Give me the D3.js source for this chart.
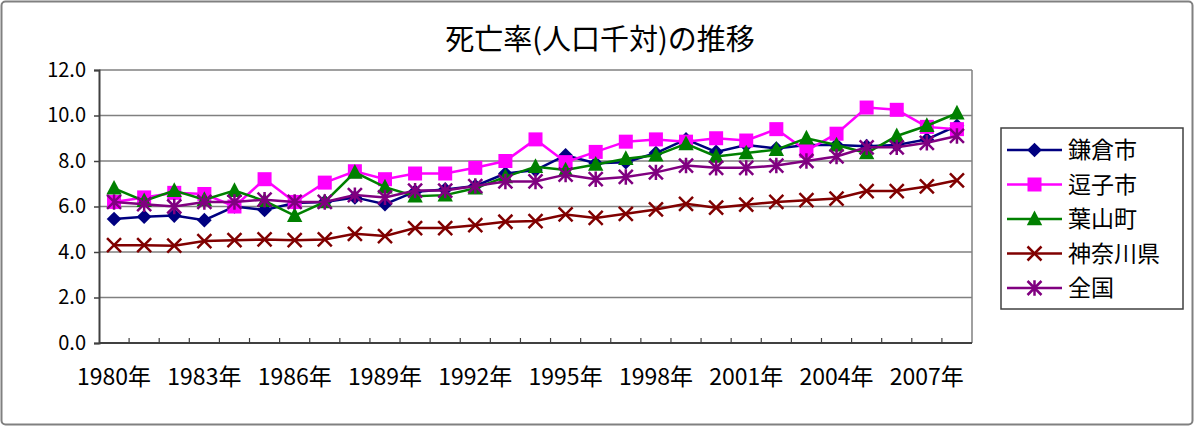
<!DOCTYPE html>
<html><head><meta charset="utf-8">
<script src="https://cdn.jsdelivr.net/npm/d3@7"></script>
<style>
html,body{margin:0;padding:0;background:#fff;}
text{font-family:"Noto Sans CJK JP","Noto Sans",sans-serif;fill:#000;}
</style></head>
<body><svg id="c" width="1195" height="428"></svg>
<script>
const title = "死亡率(人口千対)の推移";
const years = d3.range(1980, 2009);
const yTicks = [0, 2, 4, 6, 8, 10, 12];
const seriesNames = ["鎌倉市", "逗子市", "葉山町", "神奈川県", "全国"];
const kamakura = [5.45,5.55,5.6,5.4,6.0,5.85,6.15,6.2,6.4,6.1,6.65,6.75,6.9,7.45,7.6,8.25,7.9,7.95,8.35,8.95,8.4,8.7,8.55,8.7,8.7,8.65,8.7,8.95,9.55];
const zushi    = [6.2,6.4,6.6,6.55,6.0,7.2,6.2,7.05,7.55,7.2,7.45,7.45,7.7,8.0,8.95,7.95,8.4,8.85,8.95,8.85,9.0,8.9,9.4,8.45,9.2,10.35,10.25,9.5,9.4];
const hayama   = [6.8,6.25,6.7,6.3,6.7,6.25,5.6,6.2,7.5,6.85,6.45,6.5,6.8,7.3,7.75,7.6,7.85,8.1,8.25,8.75,8.2,8.35,8.5,9.0,8.7,8.35,9.1,9.55,10.1];
const kanagawa = [4.3,4.3,4.28,4.48,4.52,4.55,4.52,4.55,4.8,4.7,5.05,5.05,5.18,5.33,5.36,5.65,5.5,5.68,5.87,6.12,5.95,6.08,6.2,6.28,6.35,6.68,6.68,6.88,7.15];
const zenkoku  = [6.2,6.1,6.0,6.2,6.2,6.3,6.2,6.2,6.5,6.4,6.7,6.7,6.9,7.1,7.1,7.4,7.2,7.3,7.5,7.8,7.7,7.7,7.8,8.0,8.2,8.6,8.6,8.8,9.1];

const series = [
  {name: seriesNames[0], values: kamakura, color: "#000080", marker: "diamond"},
  {name: seriesNames[1], values: zushi,    color: "#FF00FF", marker: "square"},
  {name: seriesNames[2], values: hayama,   color: "#008000", marker: "triangle"},
  {name: seriesNames[3], values: kanagawa, color: "#800000", marker: "x"},
  {name: seriesNames[4], values: zenkoku,  color: "#800080", marker: "star"}
];

const svg = d3.select("#c");
const L = 99, R = 972, T = 70, B = 343;

svg.append("rect").attr("x",1.5).attr("y",1.5).attr("width",1191).attr("height",423)
  .attr("rx",4).attr("fill","#fff").attr("stroke","#808080").attr("stroke-width",2);

svg.append("text").attr("x",600).attr("y",50).attr("text-anchor","middle")
  .attr("font-size",29).text(title);

const x = d3.scaleBand().domain(years).range([L, R]);
const y = d3.scaleLinear().domain([0, 12]).range([B, T]);
const cx = d => x(d) + x.bandwidth()/2;

svg.append("g").selectAll("line").data(yTicks.filter(t => t > 0)).join("line")
  .attr("x1", L).attr("x2", R).attr("y1", d => y(d)).attr("y2", d => y(d))
  .attr("stroke", "#808080").attr("stroke-width", 1.5);
svg.append("line").attr("x1",R).attr("x2",R).attr("y1",T).attr("y2",B).attr("stroke","#808080").attr("stroke-width",1.5);

const yAxis = svg.append("g").attr("transform", `translate(${L},0)`)
  .call(d3.axisLeft(y).tickValues(yTicks).tickFormat(d3.format(".1f")).tickSize(5).tickPadding(8));
yAxis.select(".domain").attr("stroke","#404040").attr("stroke-width",2);
yAxis.selectAll(".tick line").attr("stroke","#404040").attr("stroke-width",1.5);
yAxis.selectAll("text").attr("font-size",20).attr("fill","#000");

const xAxis = svg.append("g").attr("transform", `translate(0,${B})`)
  .call(d3.axisBottom(x).tickValues(years.filter((d,i) => i % 3 === 0)).tickFormat(d => d + "年").tickSize(0).tickPadding(26));
xAxis.select(".domain").remove();
xAxis.selectAll("text").attr("font-size",23).attr("fill","#000");
svg.append("line").attr("x1",L).attr("x2",R).attr("y1",B).attr("y2",B).attr("stroke","#404040").attr("stroke-width",2);
svg.append("g").selectAll("line").data(years.slice(1)).join("line")
  .attr("x1", d => x(d)).attr("x2", d => x(d)).attr("y1", B).attr("y2", B-5)
  .attr("stroke", "#404040").attr("stroke-width", 1.2);

function drawMarker(g, type, color, s) {
  if (type === "diamond") {
    g.append("path").attr("d", d3.symbol(d3.symbolSquare, s*s*0.55)()).attr("transform","rotate(45)").attr("fill", color);
  } else if (type === "square") {
    g.append("rect").attr("x",-s/2).attr("y",-s/2).attr("width",s).attr("height",s).attr("fill",color);
  } else if (type === "triangle") {
    g.append("path").attr("d", `M0,${-s*0.6}L${s*0.55},${s*0.45}L${-s*0.55},${s*0.45}Z`).attr("fill",color);
  } else if (type === "x") {
    const h = s*0.5;
    g.append("path").attr("d", `M${-h},${-h}L${h},${h}M${-h},${h}L${h},${-h}`).attr("stroke",color).attr("stroke-width",2.5);
  } else if (type === "star") {
    const h = s*0.5;
    g.append("path").attr("d", `M${-h},${-h}L${h},${h}M${-h},${h}L${h},${-h}M0,${-h*1.1}L0,${h*1.1}`).attr("stroke",color).attr("stroke-width",2.5);
  }
}

const line = d3.line().x(d => cx(d.year)).y(d => y(d.v));
series.forEach(s => {
  const pts = years.map((yr, i) => ({year: yr, v: s.values[i]}));
  const g = svg.append("g");
  g.append("path").datum(pts).attr("d", line).attr("fill","none").attr("stroke", s.color).attr("stroke-width", 2.5);
  pts.forEach(p => {
    const m = g.append("g").attr("transform", `translate(${cx(p.year)},${y(p.v)})`);
    drawMarker(m, s.marker, s.color, 14);
  });
});

const lg = svg.append("g");
lg.append("rect").attr("x",1001).attr("y",128).attr("width",182).attr("height",181)
  .attr("fill","#fff").attr("stroke","#404040").attr("stroke-width",1.5);
series.forEach((s, i) => {
  const yy = 150 + i*34.5;
  lg.append("line").attr("x1",1007).attr("x2",1062).attr("y1",yy).attr("y2",yy).attr("stroke",s.color).attr("stroke-width",2.5);
  const m = lg.append("g").attr("transform", `translate(1034.5,${yy})`);
  drawMarker(m, s.marker, s.color, 14);
  lg.append("text").attr("x",1068).attr("y",yy).attr("dy","0.36em").attr("font-size",23).text(s.name);
});
</script></body></html>
